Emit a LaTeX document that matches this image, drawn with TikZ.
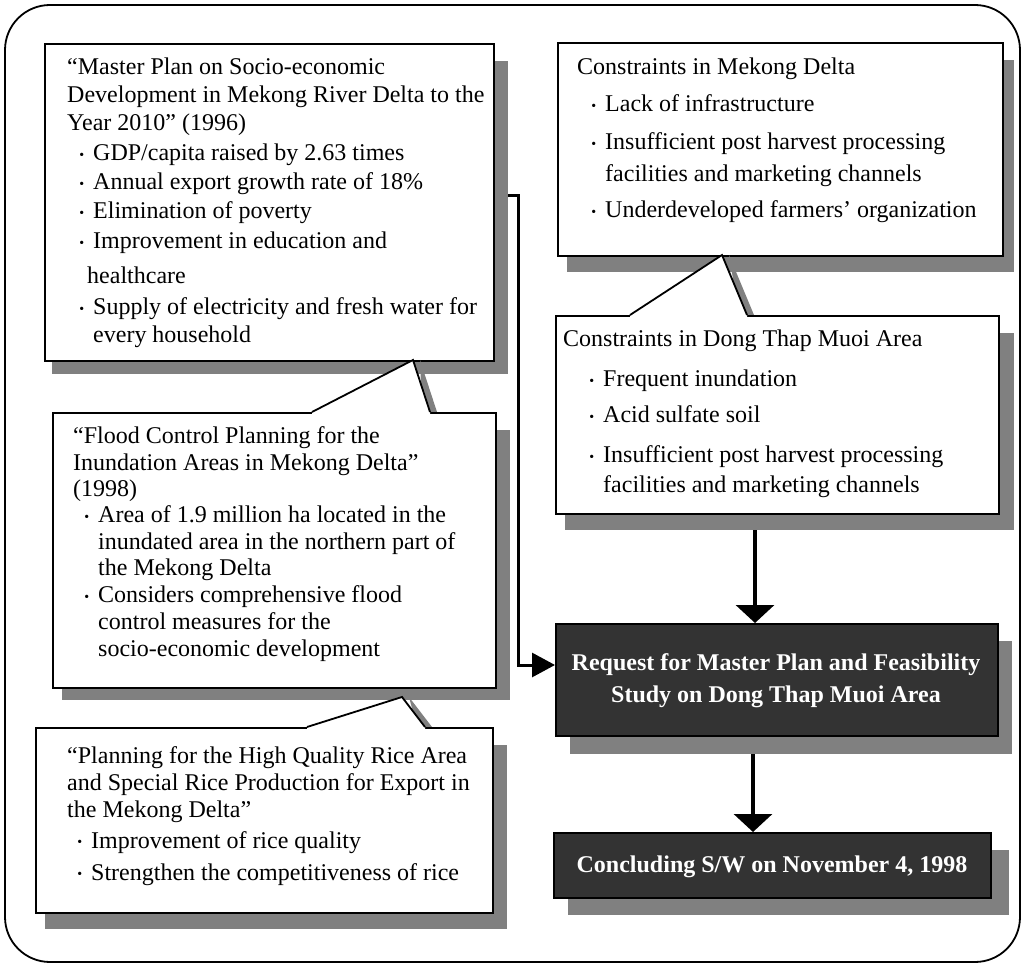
\documentclass[tikz,border=0pt]{standalone}
\usepackage{fontspec}
\setmainfont{Liberation Serif}
\usetikzlibrary{arrows.meta,calc}

% small round bullet and list lines with a fixed indent
\newcommand\bul{\raisebox{0.08em}{\scalebox{0.58}{\textbullet}}}
\newcommand\bi[2]{\makebox[#1][r]{\bul\hspace{9pt}}#2}
\newcommand\ci[2]{\hspace*{#1}#2}

\begin{document}
\begin{tikzpicture}[x=1pt,y=-1pt,
  frame/.style={draw=black, line width=1.8pt, rounded corners=45pt},
  panel/.style={draw=black, line width=1.8pt, fill=white, anchor=north west, inner sep=0pt},
  darkpanel/.style={draw=black, line width=1.8pt, fill=black!80, anchor=north west, inner sep=0pt},
  shade/.style={fill=black!50, draw=none},
  tipfill/.style={fill=white, draw=none},
  tipline/.style={draw=black, line width=1.8pt, line join=miter},
  body/.style={anchor=base west, inner sep=0pt},
  headtext/.style={anchor=base, inner sep=0pt, text=white, font=\fontsize{24}{32}\selectfont\bfseries},
  flow/.style={draw=black, line width=3.5pt, -{Triangle[width=38pt,length=18pt]}},
  feed/.style={draw=black, line width=3pt, line join=miter, -{Triangle[width=24pt,length=23pt]}},
]
\useasboundingbox (0,0) rectangle (1023,965);

% outer frame
\draw[frame] (5,5) rectangle (1020,962);

% box geometry (drawn later, named now so connectors can use them)
\path
  node[panel, draw=none, fill=none, minimum width=449pt, minimum height=317pt] (b1) at (44,43) {}
  node[panel, draw=none, fill=none, minimum width=443pt, minimum height=275pt] (b2) at (52,412) {}
  node[panel, draw=none, fill=none, minimum width=457pt, minimum height=185pt] (b3) at (35,727) {}
  node[panel, draw=none, fill=none, minimum width=445pt, minimum height=213pt] (b4) at (557,42) {}
  node[panel, draw=none, fill=none, minimum width=443pt, minimum height=198pt] (b5) at (555,315) {}
  node[panel, draw=none, fill=none, minimum width=442pt, minimum height=112pt] (b6) at (555,623) {}
  node[panel, draw=none, fill=none, minimum width=437pt, minimum height=65pt] (b7) at (553,832) {};

% connectors
\coordinate (ax1) at (755,0);
\coordinate (ax2) at (753,0);
\coordinate (e1) at (518,196);
\coordinate (e2) at (518,665);
\draw[feed] (b1.east |- e1) -- (e1) -- (e2) -- (b6.west |- e2);
\draw[flow] (b5.south -| ax1) -- (b6.north -| ax1);
\draw[flow] (b6.south -| ax2) -- (b7.north -| ax2);

% callout pointers
\coordinate (p1tip) at (413,360); \coordinate (p1l) at (312,412); \coordinate (p1r) at (430,412);
\coordinate (p2tip) at (402,697); \coordinate (p2l) at (307,727); \coordinate (p2r) at (425,727);
\coordinate (p3tip) at (722,255); \coordinate (p3l) at (630,315); \coordinate (p3r) at (747,315);

% box 1
\fill[shade] ($(b1.north east)+(13,18)$) rectangle ($(b1.south west)+(8,12)$);
\node[panel, minimum width=449pt, minimum height=317pt] (f1) at (b1.north west) {};

% box 2 with pointer
\fill[shade] ($(b2.north east)+(13,18)$) rectangle ($(b2.south west)+(10,11)$);
\fill[shade] ($(p1tip)+(7,0)$) -- ($(p1r)+(7,0)$) -- ($(p1r)+(-8,0)$) -- cycle;
\node[panel, minimum width=443pt, minimum height=275pt] (f2) at (b2.north west) {};
\fill[tipfill] (p1l) -- (p1tip) -- (p1r) -- ($(p1r)+(0,2)$) -- ($(p1l)+(0,2)$) -- cycle;
\draw[tipline] (p1l) -- (p1tip) -- (p1r);

% box 3 with pointer
\fill[shade] ($(b3.north east)+(13,18)$) rectangle ($(b3.south west)+(10,15)$);
\fill[shade] ($(p2tip)+(7,0)$) -- ($(p2r)+(7,0)$) -- ($(p2r)+(-8,0)$) -- cycle;
\node[panel, minimum width=457pt, minimum height=185pt] (f3) at (b3.north west) {};
\fill[tipfill] (p2l) -- (p2tip) -- (p2r) -- ($(p2r)+(0,2)$) -- ($(p2l)+(0,2)$) -- cycle;
\draw[tipline] (p2l) -- (p2tip) -- (p2r);

% box 4
\fill[shade] ($(b4.north east)+(10,18)$) rectangle ($(b4.south west)+(10,15)$);
\node[panel, minimum width=445pt, minimum height=213pt] (f4) at (b4.north west) {};

% box 5 with pointer
\fill[shade] ($(b5.north east)+(14,18)$) rectangle ($(b5.south west)+(10,15)$);
\fill[shade] ($(p3tip)+(7,0)$) -- ($(p3r)+(7,0)$) -- ($(p3r)+(-8,0)$) -- cycle;
\node[panel, minimum width=443pt, minimum height=198pt] (f5) at (b5.north west) {};
\fill[tipfill] (p3l) -- (p3tip) -- (p3r) -- ($(p3r)+(0,2)$) -- ($(p3l)+(0,2)$) -- cycle;
\draw[tipline] (p3l) -- (p3tip) -- (p3r);

% dark boxes
\fill[shade] ($(b6.north east)+(13,18)$) rectangle ($(b6.south west)+(15,17)$);
\node[darkpanel, minimum width=442pt, minimum height=112pt] (f6) at (b6.north west) {};
\fill[shade] ($(b7.north east)+(17,18)$) rectangle ($(b7.south west)+(15,16)$);
\node[darkpanel, minimum width=437pt, minimum height=65pt] (f7) at (b7.north west) {};

% texts
\node[body] (t1) at (67,75) {\parbox[t]{450pt}{\raggedright\fontsize{24}{28}\selectfont
“Master Plan on Socio-economic\\
Development in Mekong River Delta to the\\
Year 2010” (1996)\\[2pt]
\bi{26pt}{GDP/capita raised by 2.63 times}\\[1pt]
\bi{26pt}{Annual export growth rate of 18\%}\\[1pt]
\bi{26pt}{Elimination of poverty}\\[2pt]
\bi{26pt}{Improvement in education and}\\[7pt]
\ci{20pt}{healthcare}\\[3pt]
\bi{26pt}{Supply of electricity and fresh water for}\\
\ci{26pt}{every household}}};

\node[body] (t2) at (73,443) {\parbox[t]{450pt}{\raggedright\fontsize{24}{27}\selectfont
“Flood Control Planning for the\\
Inundation Areas in Mekong Delta”\\
(1998)\\[-1pt]
\bi{25pt}{Area of 1.9 million ha located in the}\\
\ci{25pt}{inundated area in the northern part of}\\[-2pt]
\ci{25pt}{the Mekong Delta}\\[1pt]
\bi{25pt}{Considers comprehensive flood}\\
\ci{25pt}{control measures for the}\\
\ci{25pt}{socio-economic development}}};

\node[body] (t3) at (67,763) {\parbox[t]{450pt}{\raggedright\fontsize{24}{27}\selectfont
“Planning for the High Quality Rice Area\\
and Special Rice Production for Export in\\
the Mekong Delta”\\[4pt]
\bi{24pt}{Improvement of rice quality}\\[5pt]
\bi{24pt}{Strengthen the competitiveness of rice}}};

\node[body] (t4) at (577,75) {\parbox[t]{430pt}{\raggedright\fontsize{24}{32}\selectfont
Constraints in Mekong Delta\\[5pt]
\bi{28pt}{Lack of infrastructure}\\[6pt]
\bi{28pt}{Insufficient post harvest processing}\\
\ci{28pt}{facilities and marketing channels}\\[4pt]
\bi{28pt}{Underdeveloped farmers’ organization}}};

\node[body] (t5) at (563,347) {\parbox[t]{430pt}{\raggedright\fontsize{24}{32}\selectfont
Constraints in Dong Thap Muoi Area\\[8pt]
\bi{40pt}{Frequent inundation}\\[4pt]
\bi{40pt}{Acid sulfate soil}\\[8pt]
\bi{40pt}{Insufficient post harvest processing}\\[-2pt]
\ci{40pt}{facilities and marketing channels}}};

\node[headtext] (t6) at (776,670) {\parbox[t]{440pt}{\centering
Request for Master Plan and Feasibility\\
Study on Dong Thap Muoi Area}};

\node[headtext] (t7) at (772,872) {Concluding S/W on November 4, 1998};

\end{tikzpicture}
\end{document}
